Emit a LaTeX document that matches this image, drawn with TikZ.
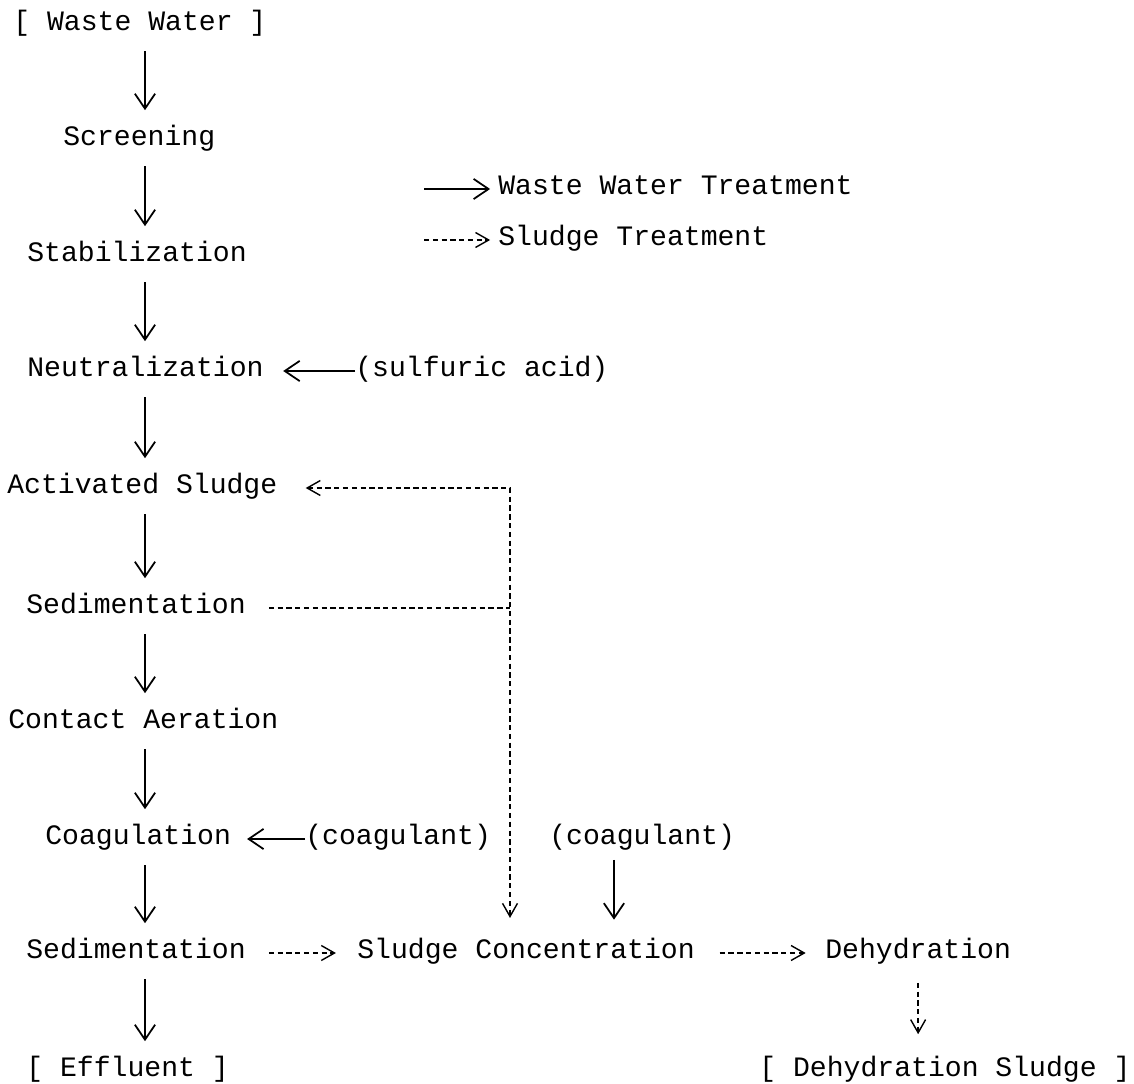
\documentclass[tikz,border=0pt]{standalone}
\usepackage{fontspec}
\newfontfamily\plantfont{Liberation Mono}
\usetikzlibrary{arrows.meta,positioning,calc}

\begin{document}
\begin{tikzpicture}[x=0.02cm, y=-0.02cm,
  lbl/.style={font=\plantfont\fontsize{16}{18}\selectfont, inner sep=0pt, text height=9pt, text depth=2.5pt, anchor=west},
  flow/.style={line width=1pt, -{Straight Barb[length=8.5pt,width=11.5pt]}},
  sludge/.style={line width=0.8pt, dash pattern=on 3pt off 2pt, -{Straight Barb[length=7.5pt,width=8.5pt]}},
  vgap/.style={shorten <=9pt, shorten >=11pt}]
\useasboundingbox (0,0) rectangle (1134,1084);

% Main line
\node[lbl] (ww) at (13,25) {[ Waste Water ]};
\node[lbl] (scr) at (63,140) {Screening};
\node[lbl] (stab) at (27,256) {Stabilization};
\node[lbl] (neu) at (27,371) {Neutralization};
\node[lbl] (act) at (7,488) {Activated Sludge};
\node[lbl] (sed1) at (26,608) {Sedimentation};
\node[lbl] (ca) at (8,723) {Contact Aeration};
\node[lbl] (coag) at (45,839) {Coagulation};
\node[lbl] (sed2) at (26,953) {Sedimentation};
\node[lbl] (eff) at (26,1071) {[ Effluent ]};

% Additives
\node[lbl] (sulf) at (355,371) {(sulfuric acid)};
\node[lbl] (cgl1) at (305,839) {(coagulant)};
\node[lbl] (cgl2) at (549,839) {(coagulant)};

% Sludge line
\node[lbl] (conc) at (357,953) {Sludge Concentration};
\node[lbl] (dehy) at (825,953) {Dehydration};
\node[lbl] (dhs) at (759,1071) {[ Dehydration Sludge ]};

% Legend
\node[lbl] (wwt) at (498,189) {Waste Water Treatment};
\node[lbl] (slt) at (498,240) {Sludge Treatment};

\coordinate (spine) at (145,0);
\coordinate (jn) at (510,0);
\coordinate (cgx) at (614,0);
\coordinate (lg) at (424,0);

% Arrows
\foreach \a/\b in {ww/scr, scr/stab, stab/neu, neu/act, act/sed1, sed1/ca, ca/coag, coag/sed2, sed2/eff}
  \draw[flow, vgap] (\a.south -| spine) -- (\b.north -| spine);
\draw[flow, shorten >=11pt] (sulf.west) -- (neu.east);
\draw[flow, shorten >=9pt] (cgl1.west) -- (coag.east);
\draw[flow, shorten <=6pt, shorten >=13pt] (cgl2.south -| cgx) -- (conc.north -| cgx);

\draw[sludge, {Straight Barb[length=7.5pt,width=8.5pt]}-{Straight Barb[length=7.5pt,width=8.5pt]}, shorten <=16pt, shorten >=14pt]
  (act.east) -- (jn |- act.east) -- (conc.north -| jn);
\draw[sludge, -, shorten <=13pt] (sed1.east) -- (sed1.east -| jn);
\draw[sludge, shorten <=13pt, shorten >=12pt] (sed2.east) -- (conc.west);
\draw[sludge, shorten <=14pt, shorten >=11pt] (conc.east) -- (dehy.west);
\draw[sludge, shorten <=11pt, shorten >=15pt] (dehy.south) -- (dhs.north -| dehy.south);

\draw[flow, shorten >=4.5pt] (lg |- wwt.west) -- (wwt.west);
\draw[sludge, shorten >=4.5pt] (lg |- slt.west) -- (slt.west);
\end{tikzpicture}
\end{document}
